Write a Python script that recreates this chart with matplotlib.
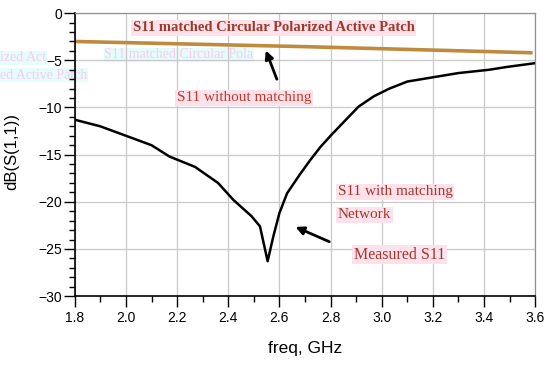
import numpy as np
import matplotlib.pyplot as plt
from matplotlib.ticker import MultipleLocator

# --- data ---
freq = [1.80, 1.90, 1.98, 2.10, 2.17, 2.27, 2.36, 2.42, 2.49, 2.524, 2.554, 2.576,
        2.60, 2.63, 2.68, 2.72, 2.76, 2.80, 2.86, 2.91, 2.97, 3.03, 3.10, 3.20,
        3.30, 3.42, 3.49, 3.60]
s11_measured = [-11.3, -12.0, -12.8, -14.0, -15.2, -16.3, -18.0, -19.8, -21.5, -22.6,
                -26.3, -23.7, -21.2, -19.1, -17.1, -15.6, -14.2, -13.0, -11.3, -9.9,
                -8.8, -8.0, -7.25, -6.8, -6.35, -6.0, -5.7, -5.3]

freq_nomatch = [1.80, 2.70, 3.59]
s11_nomatch = [-3.0, -3.55, -4.2]

x_ticks = [1.8, 2.0, 2.2, 2.4, 2.6, 2.8, 3.0, 3.2, 3.4, 3.6]
y_ticks = [0, -5, -10, -15, -20, -25, -30]

serif = ['Liberation Serif', 'DejaVu Serif']
sans = ['Liberation Sans', 'DejaVu Sans']
red = '#a8342a'
pink = '#fde2ec'

fig = plt.figure(figsize=(5.5, 3.66), dpi=100)
ax = fig.add_axes([0.136, 0.191, 0.837, 0.773])
ax.patch.set_alpha(0)

ax.plot(freq_nomatch, s11_nomatch, color='#c08a3e', linewidth=2.6, solid_capstyle='butt')
ax.plot(freq, s11_measured, color='black', linewidth=1.8)

ax.set_xlim(1.8, 3.6)
ax.set_ylim(-30, 0)
ax.set_xticks(x_ticks)
ax.set_xticklabels([f'{v:.1f}' for v in x_ticks])
ax.set_yticks(y_ticks)
ax.xaxis.set_minor_locator(MultipleLocator(0.1))
ax.yaxis.set_minor_locator(MultipleLocator(1))
ax.grid(True, which='major', color='#c8c8c8', linewidth=0.9)
ax.tick_params(which='both', direction='out', color='black', width=1.0, labelsize=10)
ax.tick_params(which='major', length=8)
ax.tick_params(which='minor', length=4)
ax.tick_params(axis='y', which='major', pad=1)
ax.tick_params(axis='x', which='major', pad=3)
for lab in ax.get_xticklabels() + ax.get_yticklabels():
    lab.set_family(sans)
for s in ['top', 'right']:
    ax.spines[s].set_color('#909090')
    ax.spines[s].set_linewidth(0.9)
for s in ['left', 'bottom']:
    ax.spines[s].set_linewidth(1.2)

ax.set_xlabel('freq, GHz', family=sans, fontsize=12.5)
ax.set_ylabel('dB(S(1,1))', family=sans, fontsize=12)
ax.xaxis.set_label_coords(0.5, -0.184)
ax.xaxis.label.set_va('center')
ax.yaxis.set_label_coords(-0.137, 0.51)
ax.yaxis.label.set_va('center')

# faint ghost text from the source image (drawn behind the axes)
ghost = dict(color='#f7cdee', fontsize=10, family=serif, va='center', zorder=-1,
             bbox=dict(boxstyle='square,pad=0.05', facecolor='#e6fbfb', edgecolor='none'))
fig.text(0.19, 0.85, 'S11 matched Circular Pola', **ghost)
fig.text(0.0, 0.842, 'ized Act', **ghost)
fig.text(0.0, 0.795, 'ed Active Patch', **ghost)

box = dict(boxstyle='square,pad=0.1', facecolor=pink, edgecolor='none')
ax.text(2.027, -1.55, 'S11 matched Circular Polarized Active Patch', family=serif,
        fontsize=10.5, fontweight='bold', color='#9c3a2a', va='center', bbox=box)
ax.text(2.199, -8.98, 'S11 without matching', family=serif, fontsize=11,
        color='#c0392b', va='center', bbox=box)
ax.text(2.829, -18.94, 'S11 with matching', family=serif, fontsize=11,
        color=red, va='center', bbox=box)
ax.text(2.829, -21.4, 'Network', family=serif, fontsize=11,
        color=red, va='center', bbox=box)
ax.text(2.892, -25.6, 'Measured S11', family=serif, fontsize=11.5,
        color=red, va='center', bbox=box)

arrow = dict(arrowstyle='-|>', color='black', linewidth=2.0, mutation_scale=12)
ax.annotate('', xy=(2.543, -3.68), xytext=(2.594, -7.28), arrowprops=arrow)
ax.annotate('', xy=(2.653, -22.55), xytext=(2.805, -24.35), arrowprops=arrow)

fig.savefig('out.png', dpi=100)
